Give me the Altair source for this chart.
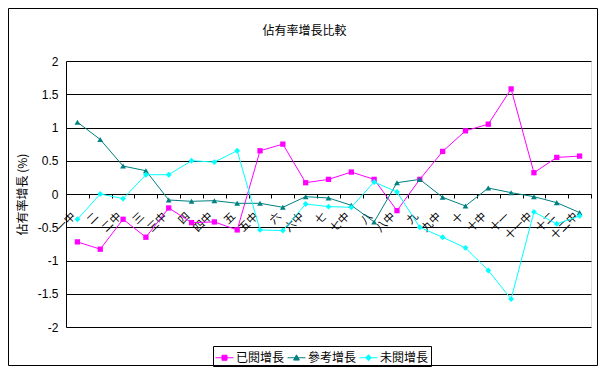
import altair as alt
import pandas as pd

categories = ["一中", "二", "二中", "三", "三中", "四", "四中", "五", "五中", "六", "六中",
              "七", "七中", "八", "八中", "九", "九中", "十", "十中", "十一", "十一中", "十二", "十二中"]
series_names = ["已閱增長", "參考增長", "未閱增長"]
read_growth = [-0.72, -0.83, -0.38, -0.65, -0.21, -0.43, -0.42, -0.54, 0.65, 0.75, 0.17, 0.22,
               0.33, 0.22, -0.25, 0.22, 0.64, 0.95, 1.05, 1.58, 0.32, 0.55, 0.57]
ref_growth = [1.08, 0.82, 0.42, 0.35, -0.09, -0.11, -0.1, -0.14, -0.14, -0.2, -0.04, -0.06,
              -0.17, -0.42, 0.17, 0.22, -0.05, -0.18, 0.09, 0.02, -0.04, -0.13, -0.28]
unread_growth = [-0.38, 0.0, -0.07, 0.29, 0.29, 0.5, 0.48, 0.65, -0.54, -0.55, -0.15, -0.19,
                 -0.2, 0.18, 0.03, -0.5, -0.65, -0.81, -1.15, -1.58, -0.27, -0.45, -0.33]
colors = ["#FF00FF", "#008080", "#00FFFF"]
shapes = ["square", "triangle-up", "diamond"]
marker_sizes = [28, 34, 34]
y_ticks = [-2, -1.5, -1, -0.5, 0, 0.5, 1, 1.5, 2]

rows = []
for name, vals in zip(series_names, [read_growth, ref_growth, unread_growth]):
    for c, v in zip(categories, vals):
        rows.append({"period": c, "series": name, "value": v})
df = pd.DataFrame(rows)

FONT = "Noto Sans CJK TC"
W, H = 525, 266

shape_expr = (
    "datum.value === '已閱增長' ? 'M-1,0H1M-0.28,-0.28H0.28V0.28H-0.28Z' : "
    "datum.value === '參考增長' ? 'M-1,0H1M0,-0.32L0.32,0.26H-0.32Z' : "
    "'M-1,0H1M0,-0.34L0.3,0L0,0.34L-0.3,0Z'"
)
color_expr = "scale('color', datum.value)"

legend = alt.Legend(
    title=None, orient="none", legendX=147, legendY=285, direction="horizontal",
    strokeColor="black", padding=2, symbolSize=324, symbolStrokeWidth=1,
    symbolType=alt.ExprRef(shape_expr),
    symbolFillColor=alt.ExprRef(color_expr),
    symbolStrokeColor=alt.ExprRef(color_expr),
    labelFont=FONT, labelFontSize=12, labelColor="black", labelOffset=2, columnPadding=0,
)

x = alt.X("period:N", sort=categories,
          scale=alt.Scale(type="band", paddingInner=0, paddingOuter=0),
          axis=alt.Axis(title=None, labelAngle=-45, labelAlign="right", labelBaseline="top",
                        offset=-H / 2, tickBand="extent", tickSize=4, tickColor="black",
                        domainColor="black", labelFont=FONT, labelFontSize=11,
                        labelColor="black", labelPadding=12, labelOffset=-8, grid=False))
y = alt.Y("value:Q", scale=alt.Scale(domain=[-2, 2], nice=False, zero=False),
          axis=alt.Axis(values=y_ticks, title="佔有率增長 (%)", grid=True, gridColor="black",
                        gridOpacity=1, gridWidth=1, domainColor="black", ticks=False,
                        labelPadding=8, labelExpr="'' + datum.value", labelFont="Liberation Sans",
                        labelFontSize=12, labelColor="black", titleFont=FONT, titleFontSize=12,
                        titleFontWeight="normal", titleColor="black", titleX=-44, titleY=H / 2,
                        titleBaseline="middle", titleAlign="center", titleAngle=-90))

lines = alt.Chart(df).mark_line(strokeWidth=1).encode(
    x=x, y=y,
    color=alt.Color("series:N", scale=alt.Scale(domain=series_names, range=colors), legend=legend),
)

point_layers = []
for name, col, shp, sz in zip(series_names, colors, shapes, marker_sizes):
    point_layers.append(
        alt.Chart(df).transform_filter(alt.datum.series == name)
        .mark_point(filled=True, size=sz, opacity=1, shape=shp, color=col)
        .encode(x=x, y=y)
    )

border = alt.Chart(pd.DataFrame({"a": [0]})).mark_rect(
    fill=None, stroke="black", strokeWidth=1
).encode(x=alt.value(-57.5), x2=alt.value(W + 6.5), y=alt.value(-52.5), y2=alt.value(H + 38.5))

chart = alt.layer(border, lines, *point_layers).properties(
    width=W, height=H,
    title=alt.Title("佔有率增長比較", font=FONT, fontSize=12, fontWeight="normal",
                    color="black", anchor="middle", offset=-27, baseline="bottom",
                    dx=-24, dy=15),
    autosize=alt.AutoSizeParams(type="none"),
    padding={"left": 58, "top": 53, "right": 7, "bottom": 45},
).configure_view(stroke=None).configure(background="white")

chart.save("out.html", embed_options={"renderer": "svg", "actions": False})
